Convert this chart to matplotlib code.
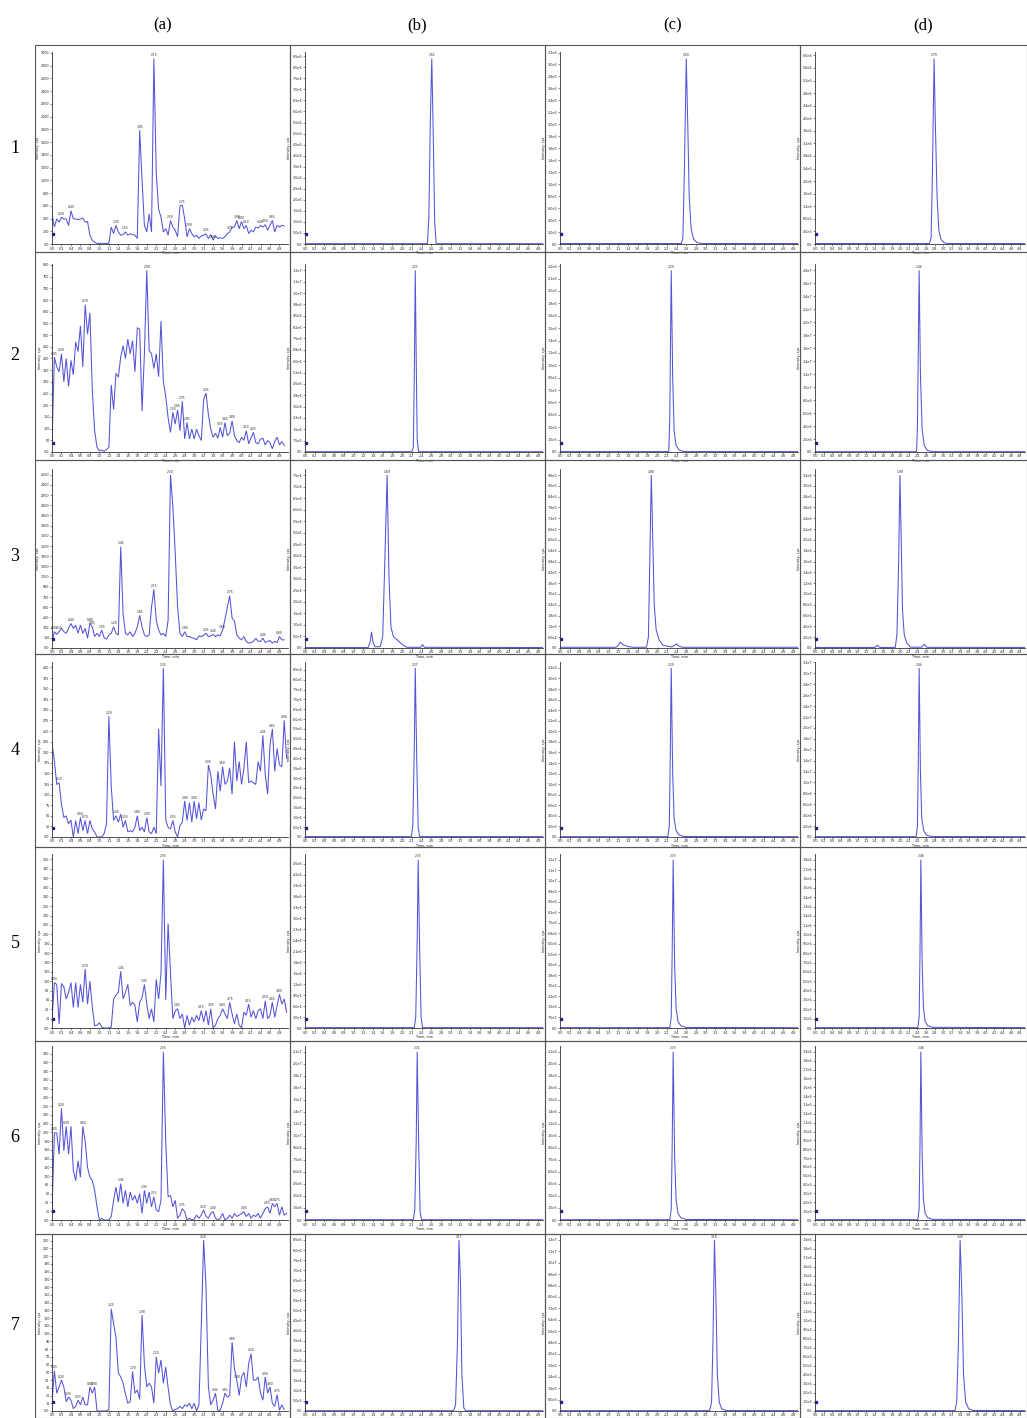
import numpy as np
import matplotlib
matplotlib.use("Agg")
import matplotlib.pyplot as plt
from matplotlib.patches import Rectangle
from matplotlib.ticker import MultipleLocator, FuncFormatter

W, H = 1027, 1418
fig = plt.figure(figsize=(W / 100, H / 100), dpi=100)
fig.patch.set_facecolor("white")

COL_LABELS = ["(a)", "(b)", "(c)", "(d)"]
ROW_LABELS = ["1", "2", "3", "4", "5", "6", "7"]
X_LABEL = "Time, min"
Y_LABEL = "Intensity, cps"

# ---------------- column (a): noisy blank chromatograms, sampled every 0.05 min ----------------
A_STEP = 0.05
A1 = [470, 266, 394, 343, 420, 394, 394, 290, 522, 394, 394, 384, 394, 404, 343, 353, 138, 61, 26,
      10, 10, 10, 10, 10, 10, 266, 164, 292, 190, 138, 148, 190, 138, 159, 148, 138, 87, 1787, 1009,
      292, 190, 471, 190, 2913, 1111, 548, 420, 190, 241, 138, 369, 266, 215, 113, 599, 609, 394,
      113, 241, 164, 113, 138, 87, 128, 138, 159, 87, 148, 61, 128, 87, 97, 87, 113, 164, 190, 266,
      266, 369, 241, 353, 241, 292, 164, 215, 190, 266, 251, 292, 266, 302, 215, 292, 369, 190, 292,
      266, 292, 282]
A2 = [40, 406, 364, 343, 420, 300, 400, 280, 392, 330, 470, 430, 539, 364, 630, 504, 595, 266, 90,
      20, 5, 8, 3, 10, 20, 287, 182, 336, 320, 406, 455, 400, 483, 420, 476, 343, 532, 525, 175,
      420, 777, 434, 420, 357, 420, 322, 560, 300, 238, 147, 84, 170, 119, 180, 91, 217, 56, 126,
      56, 98, 56, 98, 70, 49, 224, 252, 160, 98, 63, 80, 59, 105, 63, 126, 70, 80, 133, 70, 49, 40,
      63, 50, 91, 35, 60, 84, 40, 35, 55, 59, 30, 49, 40, 14, 45, 63, 30, 45, 28]
A3 = [96, 240, 200, 240, 288, 240, 216, 288, 360, 288, 336, 216, 336, 216, 288, 144, 360, 312, 168,
      216, 168, 264, 150, 130, 192, 216, 312, 216, 192, 1488, 500, 216, 192, 240, 168, 216, 312,
      480, 312, 192, 168, 192, 600, 864, 408, 264, 192, 216, 168, 408, 2544, 2088, 1400, 600, 216,
      168, 240, 168, 168, 150, 144, 120, 178, 168, 190, 216, 168, 178, 200, 168, 192, 180, 264, 420,
      600, 768, 440, 400, 192, 144, 120, 168, 96, 72, 80, 96, 144, 100, 96, 144, 82, 96, 110, 72, 96,
      80, 168, 120, 120]
A4 = [220, 180, 124, 128, 77, 46, 50, 31, 40, 0, 39, 8, 46, 15, 39, 8, 39, 19, 12, 0, 0, 0, 8, 31,
      285, 120, 39, 50, 35, 54, 23, 39, 12, 15, 12, 23, 50, 15, 23, 12, 46, 12, 8, 23, 8, 255, 120,
      399, 40, 23, 19, 39, 12, 0, 27, 35, 85, 39, 81, 35, 85, 43, 81, 40, 66, 62, 170, 147, 101, 66,
      155, 108, 166, 124, 132, 163, 101, 225, 132, 178, 124, 163, 225, 128, 132, 128, 124, 178, 155,
      240, 147, 101, 217, 255, 155, 209, 170, 166, 275, 186]
A5 = [16, 97, 93, 9, 95, 88, 62, 76, 97, 44, 97, 44, 93, 55, 126, 51, 100, 45, 5, 6, 11, 2, 0, 0, 0,
      2, 62, 70, 76, 121, 62, 76, 93, 48, 55, 48, 13, 55, 65, 93, 51, 20, 41, 13, 104, 62, 118, 359,
      60, 223, 118, 20, 37, 41, 20, 30, 0, 27, 6, 23, 13, 27, 16, 37, 13, 37, 6, 41, 0, 6, 20, 27, 41,
      30, 20, 55, 30, 9, 30, 6, 0, 34, 27, 51, 23, 37, 20, 37, 41, 20, 58, 20, 27, 55, 23, 48, 72, 51,
      62, 34]
A6 = [19, 199, 199, 150, 255, 158, 214, 150, 214, 113, 90, 135, 98, 214, 180, 120, 98, 90, 68, 30, 0,
      4, 0, 0, 0, 8, 45, 75, 41, 83, 38, 68, 30, 64, 45, 56, 38, 60, 15, 68, 38, 64, 30, 53, 23, 19,
      45, 384, 180, 53, 56, 30, 45, 4, 11, 26, 19, 0, 4, 0, 2, 11, 4, 11, 23, 8, 4, 15, 19, 4, 0, 4,
      15, 0, 4, 11, 4, 15, 8, 11, 15, 19, 8, 15, 4, 11, 8, 15, 4, 15, 26, 30, 15, 38, 30, 38, 11, 30,
      11, 15]
A7 = [10, 52, 23, 31, 40, 31, 12, 18, 14, 3, 6, 14, 8, 18, 8, 8, 31, 23, 31, 0, 0, 0, 0, 0, 2, 132,
      113, 95, 49, 44, 36, 22, 10, 12, 51, 23, 27, 15, 124, 60, 31, 36, 31, 10, 70, 49, 66, 36, 57,
      30, 8, 0, 2, 3, 6, 3, 8, 6, 10, 3, 10, 0, 8, 110, 221, 160, 31, 8, 14, 23, 0, 1, 10, 23, 18, 20,
      89, 55, 40, 20, 44, 50, 31, 61, 74, 40, 40, 44, 23, 14, 44, 23, 31, 10, 6, 21, 1, 8, 2]
A_SERIES = [A1, A2, A3, A4, A5, A6, A7]

# labelled peak retention times in column (a)
A1_PK = [0.20, 0.40, 1.35, 1.55, 1.85, 2.15, 2.50, 2.75, 2.90, 3.25, 3.40, 3.75, 3.90, 4.00, 4.10, 4.40, 4.50, 4.65]
A2_PK = [0.05, 0.20, 0.70, 2.00, 2.55, 2.65, 2.75, 2.85, 3.25, 3.55, 3.65, 3.80, 4.10, 4.25]
A3_PK = [0.05, 0.15, 0.40, 0.80, 0.85, 1.05, 1.30, 1.45, 1.85, 2.15, 2.50, 2.80, 3.25, 3.40, 3.60, 3.75, 4.45, 4.80]
A4_PK = [0.15, 0.60, 0.70, 1.20, 1.35, 1.55, 1.80, 2.00, 2.35, 2.55, 2.80, 3.00, 3.30, 3.60, 4.45, 4.65, 4.90]
A5_PK = [0.05, 0.70, 1.45, 1.95, 2.35, 2.65, 3.15, 3.35, 3.60, 3.75, 4.15, 4.50, 4.65, 4.80]
A6_PK = [0.05, 0.20, 0.30, 0.65, 1.45, 1.95, 2.15, 2.35, 2.75, 3.20, 3.40, 4.05, 4.55, 4.65, 4.75]
A7_PK = [0.05, 0.20, 0.35, 0.55, 0.80, 0.90, 1.25, 1.70, 1.90, 2.20, 3.20, 3.45, 3.65, 3.80, 3.90, 4.20, 4.50, 4.60, 4.75]
A_PEAKS = [A1_PK, A2_PK, A3_PK, A4_PK, A5_PK, A6_PK, A7_PK]

# ---------------- columns (b), (c), (d): single-analyte chromatograms ----------------
B1_T = [0.00, 2.52, 2.55, 2.58, 2.61, 2.64, 2.67, 2.70, 4.90]
B1_Y = [1.5e4, 1.5e4, 1.2e6, 5.5e6, 8.4e6, 5.0e6, 1.0e6, 1.5e4, 1.5e4]
C1_T = [0.00, 2.50, 2.53, 2.56, 2.60, 2.63, 2.66, 2.70, 2.75, 2.82, 2.90, 4.90]
C1_Y = [8e3, 8e3, 1.0e5, 1.2e6, 3.1e6, 2.0e6, 8.0e5, 2.5e5, 8.0e4, 2.5e4, 8e3, 8e3]
D1_T = [0.00, 2.68, 2.72, 2.75, 2.79, 2.82, 2.86, 2.90, 2.95, 3.02, 3.10, 4.92]
D1_Y = [1.5e4, 1.5e4, 2.0e5, 2.2e6, 5.9e6, 3.8e6, 1.5e6, 4.5e5, 1.5e5, 4.5e4, 1.5e4, 1.5e4]

B2_T = [0.00, 2.20, 2.23, 2.25, 2.27, 2.29, 2.31, 2.34, 4.90]
B2_Y = [2e4, 2e4, 3e5, 5.0e6, 1.2e7, 6.0e6, 8e5, 2e4, 2e4]
C2_T = [0.00, 2.24, 2.26, 2.29, 2.32, 2.35, 2.39, 2.45, 2.55, 4.90]
C2_Y = [5e3, 5e3, 4e5, 2.2e6, 9e5, 2.5e5, 8e4, 2.5e4, 5e3, 5e3]
D2_T = [0.00, 2.38, 2.40, 2.44, 2.47, 2.51, 2.56, 2.63, 2.75, 4.92]
D2_Y = [5e4, 5e4, 4e6, 2.8e7, 1.2e7, 3.5e6, 1.0e6, 2.5e5, 5e4, 5e4]

B3_T = [0.00, 1.30, 1.34, 1.37, 1.40, 1.44, 1.55, 1.60, 1.64, 1.69, 1.73, 1.77, 1.82, 1.90, 2.00,
        2.10, 2.38, 2.42, 2.46, 4.90]
B3_Y = [2e4, 2e4, 2.5e5, 7e5, 2.5e5, 5e4, 6e4, 5e5, 3.5e6, 7.5e6, 3.0e6, 9e5, 5e5, 3.5e5, 1.5e5,
        3e4, 3e4, 1.5e5, 3e4, 2e4]
C3_T = [0.00, 1.15, 1.20, 1.24, 1.30, 1.40, 1.50, 1.78, 1.82, 1.85, 1.88, 1.91, 1.94, 1.98, 2.04,
        2.12, 2.30, 2.36, 2.40, 2.45, 2.52, 4.90]
C3_Y = [4e3, 4e3, 1.5e4, 3.2e4, 1.8e4, 8e3, 4e3, 4e3, 6e4, 5.0e5, 9.6e5, 6.0e5, 2.4e5, 1.0e5, 4.5e4,
        1.5e4, 6e3, 1.5e4, 2.3e4, 1.0e4, 4e3, 4e3]
D3_T = [0.00, 1.40, 1.46, 1.52, 1.88, 1.92, 1.96, 1.99, 2.02, 2.05, 2.09, 2.15, 2.24, 2.50, 2.56,
        2.62, 4.92]
D3_Y = [1e4, 1e4, 5e4, 1e4, 1e4, 2.5e5, 1.6e6, 3.2e6, 2.0e6, 7e5, 2.5e5, 9e4, 1.5e4, 1.5e4, 7e4,
        1.2e4, 1e4]

B4_T = [0.00, 2.19, 2.22, 2.25, 2.27, 2.30, 2.33, 2.36, 4.90]
B4_Y = [2e4, 2e4, 6e5, 4.5e6, 8.6e6, 4.0e6, 5e5, 2e4, 2e4]
C4_T = [0.00, 2.22, 2.25, 2.27, 2.29, 2.32, 2.35, 2.39, 2.45, 2.55, 4.90]
C4_Y = [6e3, 6e3, 2e5, 1.5e6, 3.2e6, 1.2e6, 3.5e5, 1.2e5, 4e4, 1e4, 6e3]
D4_T = [0.00, 2.37, 2.40, 2.42, 2.44, 2.47, 2.50, 2.55, 2.62, 2.75, 4.92]
D4_Y = [6e4, 6e4, 2e6, 1.4e7, 3.1e7, 1.2e7, 3.5e6, 1.1e6, 3e5, 8e4, 6e4]

B5_T = [0.00, 2.25, 2.28, 2.31, 2.33, 2.36, 2.39, 2.42, 4.90]
B5_Y = [1e4, 1e4, 3e5, 2.4e6, 4.6e6, 2.2e6, 3e5, 1e4, 1e4]
C5_T = [0.00, 2.26, 2.29, 2.31, 2.33, 2.36, 2.39, 2.43, 2.49, 2.60, 4.90]
C5_Y = [2.5e4, 2.5e4, 8e5, 5.5e6, 1.2e7, 4.5e6, 1.4e6, 4.5e5, 1.5e5, 4e4, 2.5e4]
D5_T = [0.00, 2.41, 2.44, 2.46, 2.48, 2.51, 2.54, 2.58, 2.64, 2.76, 4.92]
D5_Y = [4e3, 4e3, 1.2e5, 8e5, 1.8e6, 7e5, 2.2e5, 7e4, 2.5e4, 7e3, 4e3]

B6_T = [0.00, 2.23, 2.26, 2.29, 2.31, 2.34, 2.37, 2.40, 4.90]
B6_Y = [4e4, 4e4, 1.2e6, 1.0e7, 2.1e7, 9.5e6, 1.0e6, 4e4, 4e4]
C6_T = [0.00, 2.26, 2.29, 2.31, 2.33, 2.36, 2.39, 2.43, 2.49, 2.60, 4.90]
C6_Y = [4e3, 4e3, 1.4e5, 9.5e5, 2.1e6, 8e5, 2.5e5, 8e4, 2.6e4, 7e3, 4e3]
D6_T = [0.00, 2.41, 2.44, 2.46, 2.48, 2.51, 2.54, 2.58, 2.64, 2.76, 4.92]
D6_Y = [4e3, 4e3, 1.3e5, 8.5e5, 1.9e6, 7.5e5, 2.3e5, 7.5e4, 2.5e4, 7e3, 4e3]

B7_T = [0.00, 3.06, 3.10, 3.14, 3.17, 3.20, 3.23, 3.27, 3.31, 4.90]
B7_Y = [1.5e4, 1.5e4, 3e5, 3.5e6, 8.5e6, 6.5e6, 1.8e6, 1.5e5, 1.5e4, 1.5e4]
C7_T = [0.00, 3.08, 3.12, 3.15, 3.18, 3.21, 3.24, 3.28, 3.33, 3.42, 4.90]
C7_Y = [2.5e4, 2.5e4, 6e5, 5.0e6, 1.2e7, 8.0e6, 2.5e6, 6e5, 1.5e5, 3e4, 2.5e4]
D7_T = [0.00, 3.28, 3.32, 3.36, 3.40, 3.44, 3.48, 3.53, 3.60, 3.70, 4.92]
D7_Y = [4e3, 4e3, 1e5, 7.5e5, 1.9e6, 1.3e6, 4e5, 1e5, 2.5e4, 6e3, 4e3]

BCD = [
    [(B1_T, B1_Y), (C1_T, C1_Y), (D1_T, D1_Y)],
    [(B2_T, B2_Y), (C2_T, C2_Y), (D2_T, D2_Y)],
    [(B3_T, B3_Y), (C3_T, C3_Y), (D3_T, D3_Y)],
    [(B4_T, B4_Y), (C4_T, C4_Y), (D4_T, D4_Y)],
    [(B5_T, B5_Y), (C5_T, C5_Y), (D5_T, D5_Y)],
    [(B6_T, B6_Y), (C6_T, C6_Y), (D6_T, D6_Y)],
    [(B7_T, B7_Y), (C7_T, C7_Y), (D7_T, D7_Y)],
]

# y tick spacing per row: [a, b, c, d]
Y_STEPS = [
    [200, 5e5, 2e5, 4e5],
    [50, 7.5e5, 1.5e5, 2e6],
    [150, 5e5, 6e4, 2e5],
    [25, 5e5, 2e5, 2e6],
    [20, 3e5, 7.5e5, 1e5],
    [20, 1.5e6, 1.5e5, 1e5],
    [10, 5e5, 8e5, 1e5],
]

# ---------------- layout (pixels) ----------------
ROW_FRAME = [(45, 252), (252, 460), (460, 654), (654, 847), (847, 1041), (1041, 1234), (1234, 1418)]
ROW_AX = [(52, 244), (264, 452), (469, 648), (662, 837), (854, 1028), (1046, 1220), (1234, 1411)]
COL_FRAME = [(35, 290), (290, 545), (545, 800), (800, 1027)]
COL_AX = [(52, 288), (305, 543), (560, 798), (815, 1025)]
X_MAX = [4.98, 4.90, 4.90, 4.92]

LINE_COLOR = "#5454d8"
TXT = 2.4
SERIF = ["Liberation Serif", "DejaVu Serif"]


def fmt_y(v, pos):
    if v == 0:
        return "0.0"
    if abs(v) >= 1e4:
        m, e = f"{v:.1e}".split("e")
        return f"{m}e{int(e)}"
    return f"{v:g}"


def style_axes(ax, xmax, ymax, ystep):
    ax.set_xlim(0, xmax)
    ax.set_ylim(0, ymax)
    for s in ("top", "right"):
        ax.spines[s].set_visible(False)
    for s in ("left", "bottom"):
        ax.spines[s].set_color("#333333")
        ax.spines[s].set_linewidth(0.6)
    ax.xaxis.set_major_locator(MultipleLocator(0.2))
    ax.xaxis.set_major_formatter(FuncFormatter(lambda v, p: f"{v:.1f}"))
    ax.yaxis.set_major_locator(MultipleLocator(ystep))
    ax.yaxis.set_major_formatter(FuncFormatter(fmt_y))
    ax.tick_params(axis="both", labelsize=TXT, length=1.2, width=0.4, pad=0.6,
                   colors="#333333", labelcolor="#222222")
    ax.set_xlabel(X_LABEL, fontsize=TXT, labelpad=0.5, color="#222222")
    ax.set_ylabel(Y_LABEL, fontsize=TXT, labelpad=1.0, color="#222222")
    ax.patch.set_alpha(0)


for r in range(7):
    rt, rb = ROW_FRAME[r]
    at, ab = ROW_AX[r]
    for c in range(4):
        cl, cr = COL_FRAME[c]
        fig.add_artist(Rectangle((cl / W, 1 - rb / H), (cr - cl) / W, (rb - rt) / H,
                                 transform=fig.transFigure, fill=False,
                                 edgecolor="#555555", linewidth=0.8))
        al, ar = COL_AX[c]
        ax = fig.add_axes([al / W, 1 - ab / H, (ar - al) / W, (ab - at) / H])
        if c == 0:
            vals = np.array(A_SERIES[r], dtype=float)
            times = np.arange(len(vals)) * A_STEP
            peaks = A_PEAKS[r]
        else:
            tt, yy = BCD[r][c - 1]
            times = np.array(tt, dtype=float)
            vals = np.array(yy, dtype=float)
            peaks = [times[int(np.argmax(vals))]]
        ymax = vals.max() * 1.035
        style_axes(ax, X_MAX[c], ymax, Y_STEPS[r][c])
        ax.plot(times, vals, color=LINE_COLOR, lw=0.75, solid_joinstyle="miter")
        ax.plot([0.02], [ymax * 0.05], marker="s", ms=1.4, color="#1a1a9a", clip_on=False)
        for pt in peaks:
            yv = np.interp(pt, times, vals)
            ax.text(pt, yv + ymax * 0.008, f"{pt:.2f}", fontsize=TXT * 0.9, ha="center",
                    va="bottom", color="#222222", clip_on=False)

for c, lab in enumerate(COL_LABELS):
    cl, cr = COL_FRAME[c]
    x = (cl + cr) / 2 if c < 3 else 923
    fig.text(x / W, 1 - 25 / H, lab, ha="center", va="center", fontsize=12, family=SERIF)

for r, lab in enumerate(ROW_LABELS):
    rt, rb = ROW_FRAME[r]
    fig.text(15 / W, 1 - ((rt + rb) / 2) / H, lab, ha="center", va="center", fontsize=13,
             family=SERIF)

fig.savefig("out.png", dpi=100, facecolor="white")
